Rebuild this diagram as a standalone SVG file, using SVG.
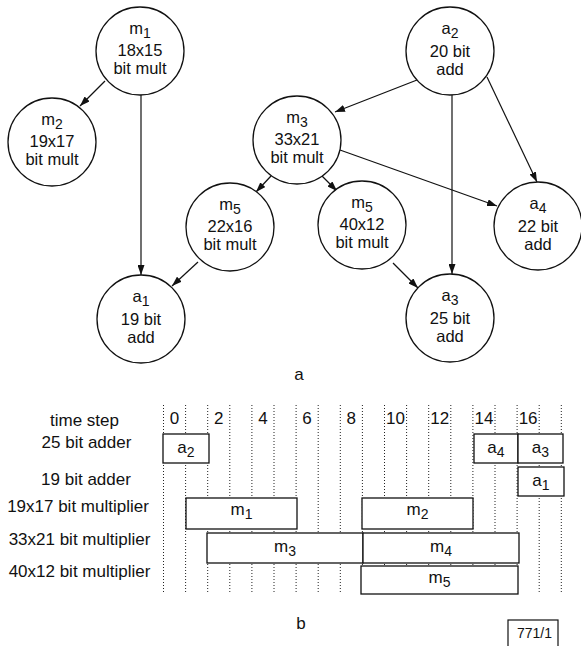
<svg xmlns="http://www.w3.org/2000/svg" width="581" height="646" viewBox="0 0 581 646">
<style>
text{font-family:"Liberation Sans",Arial,sans-serif;font-size:17px;fill:#111;text-anchor:middle}
.node text{font-size:16.5px}
.sub{font-size:14px}
.node circle{fill:#fff;stroke:#111;stroke-width:1.3}
.edge line{stroke:#111;stroke-width:1.2;marker-end:url(#arr)}
.grid line{stroke:#222;stroke-width:1;stroke-dasharray:1 2}
.bar rect{fill:#fff;stroke:#111;stroke-width:1.3}
.col{font-size:17px}
.small{font-size:14px}
</style>
<defs>
<marker id="arr" markerUnits="userSpaceOnUse" markerWidth="10" markerHeight="7" refX="10" refY="3.5" orient="auto">
<path d="M0,0 L10,3.5 L0,7 z" fill="#111"/>
</marker>
</defs>
<rect width="581" height="646" fill="#fff"/>

<g id="connectors" class="edge">
<line x1="105" y1="81" x2="80" y2="106"/>
<line x1="141" y1="95" x2="141" y2="275"/>
<line x1="417" y1="80" x2="335" y2="112"/>
<line x1="452" y1="95" x2="452" y2="274"/>
<line x1="487" y1="77" x2="537" y2="182"/>
<line x1="340" y1="150" x2="497" y2="206"/>
<line x1="271" y1="176" x2="256" y2="192"/>
<line x1="322" y1="176" x2="337" y2="191"/>
<line x1="198" y1="262" x2="172" y2="286"/>
<line x1="393" y1="263" x2="418" y2="288"/>
</g>

<g id="m1" class="node"><circle cx="140" cy="51" r="44"/>
<text x="140" y="34">m<tspan class="sub" dy="4">1</tspan></text><text x="140" y="56">18x15</text><text x="140" y="74">bit mult</text></g>
<g id="m2" class="node"><circle cx="52" cy="142" r="44"/>
<text x="52" y="125">m<tspan class="sub" dy="4">2</tspan></text><text x="52" y="147">19x17</text><text x="52" y="165">bit mult</text></g>
<g id="a2" class="node"><circle cx="450" cy="51" r="44"/>
<text x="450" y="34">a<tspan class="sub" dy="4">2</tspan></text><text x="450" y="57">20 bit</text><text x="450" y="75">add</text></g>
<g id="m3" class="node"><circle cx="297" cy="140" r="44"/>
<text x="297" y="123">m<tspan class="sub" dy="4">3</tspan></text><text x="297" y="145">33x21</text><text x="297" y="163">bit mult</text></g>
<g id="m5a" class="node"><circle cx="230" cy="227" r="44"/>
<text x="230" y="210">m<tspan class="sub" dy="4">5</tspan></text><text x="230" y="232">22x16</text><text x="230" y="250">bit mult</text></g>
<g id="m5b" class="node"><circle cx="362" cy="225" r="44"/>
<text x="362" y="208">m<tspan class="sub" dy="4">5</tspan></text><text x="362" y="230">40x12</text><text x="362" y="248">bit mult</text></g>
<g id="a4" class="node"><circle cx="538" cy="226" r="44"/>
<text x="538" y="209">a<tspan class="sub" dy="4">4</tspan></text><text x="538" y="232">22 bit</text><text x="538" y="250">add</text></g>
<g id="a1" class="node"><circle cx="141" cy="319" r="44"/>
<text x="141" y="302">a<tspan class="sub" dy="4">1</tspan></text><text x="141" y="325">19 bit</text><text x="141" y="343">add</text></g>
<g id="a3" class="node"><circle cx="450" cy="318" r="44"/>
<text x="450" y="301">a<tspan class="sub" dy="4">3</tspan></text><text x="450" y="324">25 bit</text><text x="450" y="342">add</text></g>

<text x="299" y="380">a</text>

<g id="grid" class="grid">
<line x1="163.5" y1="405" x2="163.5" y2="592"/>
<line x1="185.6" y1="405" x2="185.6" y2="592"/>
<line x1="207.7" y1="405" x2="207.7" y2="592"/>
<line x1="229.8" y1="405" x2="229.8" y2="592"/>
<line x1="251.9" y1="405" x2="251.9" y2="592"/>
<line x1="274" y1="405" x2="274" y2="592"/>
<line x1="296.1" y1="405" x2="296.1" y2="592"/>
<line x1="318.2" y1="405" x2="318.2" y2="592"/>
<line x1="340.3" y1="405" x2="340.3" y2="592"/>
<line x1="362.4" y1="405" x2="362.4" y2="592"/>
<line x1="384.5" y1="405" x2="384.5" y2="592"/>
<line x1="406.6" y1="405" x2="406.6" y2="592"/>
<line x1="428.7" y1="405" x2="428.7" y2="592"/>
<line x1="450.8" y1="405" x2="450.8" y2="592"/>
<line x1="472.9" y1="405" x2="472.9" y2="592"/>
<line x1="495" y1="405" x2="495" y2="592"/>
<line x1="517.1" y1="405" x2="517.1" y2="592"/>
<line x1="539.2" y1="405" x2="539.2" y2="592"/>
<line x1="561.3" y1="405" x2="561.3" y2="592"/>
</g>

<g id="collabels">
<text class="col" x="174.5" y="424">0</text>
<text class="col" x="218.7" y="424">2</text>
<text class="col" x="262.9" y="424">4</text>
<text class="col" x="307.1" y="424">6</text>
<text class="col" x="351.3" y="424">8</text>
<text class="col" x="395.5" y="424">10</text>
<text class="col" x="439.7" y="424">12</text>
<text class="col" x="483.9" y="424">14</text>
<text class="col" x="528.1" y="424">16</text>
</g>

<g id="rowlabels">
<text x="84.5" y="426">time step</text>
<text x="86.5" y="448">25 bit adder</text>
<text x="86" y="485">19 bit adder</text>
<text x="78" y="512">19x17 bit multiplier</text>
<text x="79.5" y="545">33x21 bit multiplier</text>
<text x="79.5" y="577">40x12 bit multiplier</text>
</g>

<g id="bars" class="bar">
<g id="bar-a2"><rect x="163" y="434" width="46" height="29"/><text x="186" y="453">a<tspan class="sub" dy="4">2</tspan></text></g>
<g id="bar-a4"><rect x="474" y="434" width="44" height="29"/><text x="496" y="453">a<tspan class="sub" dy="4">4</tspan></text></g>
<g id="bar-a3"><rect x="518" y="434" width="45" height="29"/><text x="540.5" y="453">a<tspan class="sub" dy="4">3</tspan></text></g>
<g id="bar-a1"><rect x="518" y="467" width="46" height="29"/><text x="541" y="486">a<tspan class="sub" dy="4">1</tspan></text></g>
<g id="bar-m1"><rect x="186" y="498" width="111" height="31"/><text x="241.5" y="515">m<tspan class="sub" dy="4">1</tspan></text></g>
<g id="bar-m2"><rect x="362" y="498" width="111" height="31"/><text x="417.5" y="515">m<tspan class="sub" dy="4">2</tspan></text></g>
<g id="bar-m3"><rect x="207" y="533" width="156" height="30"/><text x="285" y="552">m<tspan class="sub" dy="4">3</tspan></text></g>
<g id="bar-m4"><rect x="363" y="533" width="156" height="30"/><text x="441" y="552">m<tspan class="sub" dy="4">4</tspan></text></g>
<g id="bar-m5"><rect x="361" y="566" width="157" height="28"/><text x="439.5" y="583">m<tspan class="sub" dy="4">5</tspan></text></g>
</g>

<text x="301" y="629">b</text>

<g id="figref">
<rect x="508" y="620" width="50" height="40" fill="#fff" stroke="#111" stroke-width="1.2"/>
<text class="small" x="534.5" y="638">771/1</text>
</g>
</svg>
